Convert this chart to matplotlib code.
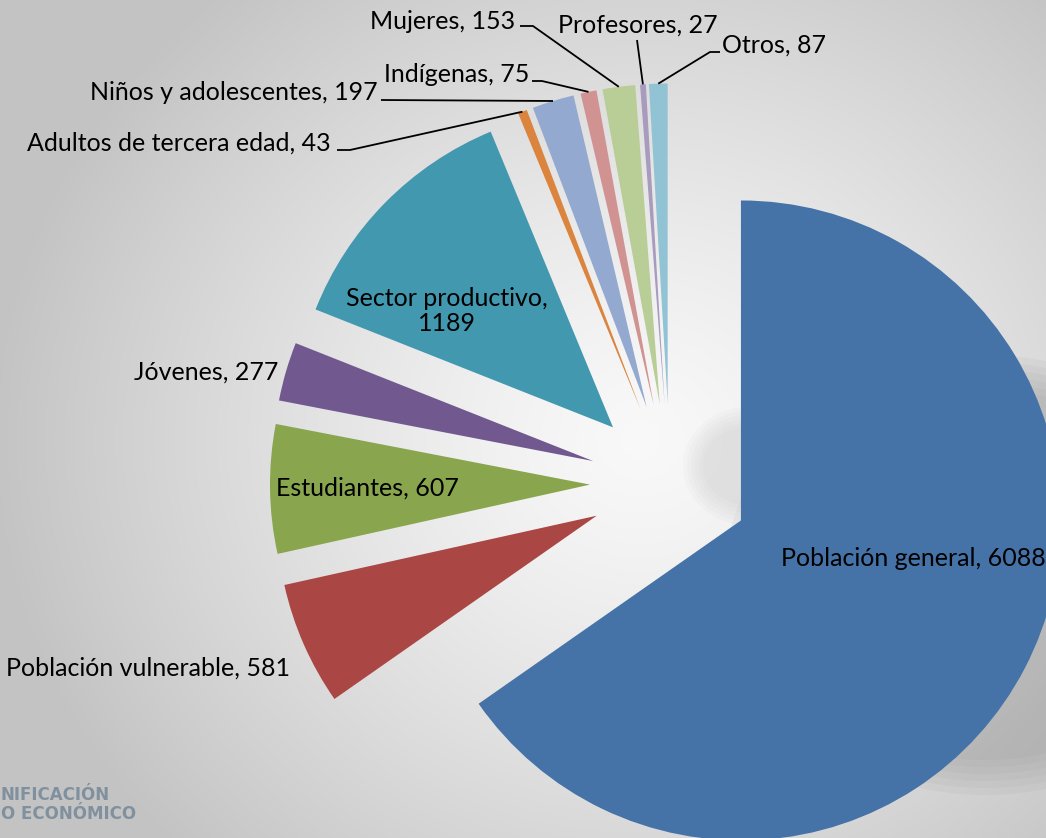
import numpy as np
import matplotlib
matplotlib.use("Agg")
import matplotlib.pyplot as plt
from matplotlib.patches import Ellipse

plt.rcParams['font.family'] = ['Lato', 'DejaVu Sans']

# data
grupos = ['Población general', 'Población vulnerable', 'Estudiantes', 'Jóvenes',
          'Sector productivo', 'Adultos de tercera edad', 'Niños y adolescentes',
          'Indígenas', 'Mujeres', 'Profesores', 'Otros']
valores = [6088, 581, 607, 277, 1189, 43, 197, 75, 153, 27, 87]
colores = ['#4572A7', '#AA4643', '#89A54E', '#71588F', '#4198AF', '#DB843D',
           '#93A9CF', '#D19392', '#B9CD96', '#A99BBD', '#92C3D5']

W, H = 1046, 838
fig = plt.figure(figsize=(W / 100, H / 100), dpi=100)
ax = fig.add_axes([0, 0, 1, 1])

# background: soft radial gradient like the slide
yy, xx = np.mgrid[0:H, 0:W]
d = np.sqrt(((xx - 640) / 1.05) ** 2 + ((yy - (H - 440)) / 0.95) ** 2)
v = 0.975 - 0.21 * np.clip(d / 620, 0, 1) ** 1.3
ax.imshow(np.dstack([v, v, v]), extent=(0, W, 0, H), origin='lower',
          zorder=0, aspect='auto')

# faint watermark shapes behind the pie (soft edges by stacking)
for k in range(6):
    ax.add_patch(Ellipse((748, H - 466), 130 - 8 * k, 118 - 8 * k,
                         fc='#b8b8b8', ec='none', alpha=0.06, zorder=1))
    ax.add_patch(Ellipse((985, H - 575), 520 - 14 * k, 440 - 14 * k,
                         fc='#8c8c8c', ec='none', alpha=0.08, zorder=1))

R = 320
cx, cy = 670, H - 483.5
wedges, _ = ax.pie(valores, colors=colores, startangle=90, counterclock=False,
                   explode=[0.25 * R] * len(valores), radius=R, center=(cx, cy),
                   wedgeprops=dict(linewidth=0), frame=True)
for w in wedges:
    w.set_zorder(2)

ax.set_xlim(0, W)
ax.set_ylim(0, H)
ax.set_aspect('auto')
ax.axis('off')

etiquetas = [f'{g}, {v}' for g, v in zip(grupos, valores)]
etiquetas[4] = f'{grupos[4]},\n{valores[4]}'

# label placement (x, y, ha)
pos = {
    0: (913, H - 558, 'center'),
    1: (290, H - 668, 'right'),
    2: (367, H - 488, 'center'),
    3: (278, H - 372, 'right'),
    4: (447, H - 311, 'center'),
    5: (331, H - 143, 'right'),
    6: (378, H - 93, 'right'),
    7: (529, H - 75, 'right'),
    8: (515, H - 22, 'right'),
    9: (638, H - 25, 'center'),
    10: (722, H - 45, 'left'),
}
fs = 18
for i, (x, y, ha) in pos.items():
    ax.text(x, y, etiquetas[i], ha=ha, va='center', fontsize=fs,
            color='black', zorder=5, linespacing=1.15)


def borde(i):
    w = wedges[i]
    t = np.deg2rad((w.theta1 + w.theta2) / 2)
    return w.center[0] + w.r * np.cos(t), w.center[1] + w.r * np.sin(t)


# leader lines: label side points, then wedge outer edge
guias = {
    5: [(337, H - 150), (350, H - 150)],
    6: [(381, H - 100)],
    7: [(532, H - 81), (542, H - 81)],
    8: [(520, H - 26), (533, H - 26)],
    9: [(637, H - 40)],
    10: [(720, H - 52), (710, H - 52)],
}
for i, pts in guias.items():
    ex, ey = borde(i)
    xs = [p[0] for p in pts] + [ex]
    ys = [p[1] for p in pts] + [ey]
    ax.plot(xs, ys, color='black', lw=1.3, zorder=4, solid_capstyle='butt')

# logo remnant at the bottom left
ax.text(1, H - 795, 'NIFICACIÓN', ha='left', va='center', fontsize=12,
        fontweight='bold', color='#6b7f92', alpha=0.75, zorder=1,
        family='DejaVu Sans')
ax.text(1, H - 814, 'O ECONÓMICO', ha='left', va='center', fontsize=12,
        fontweight='bold', color='#6b7f92', alpha=0.75, zorder=1,
        family='DejaVu Sans')

fig.savefig('out.png', dpi=100)
